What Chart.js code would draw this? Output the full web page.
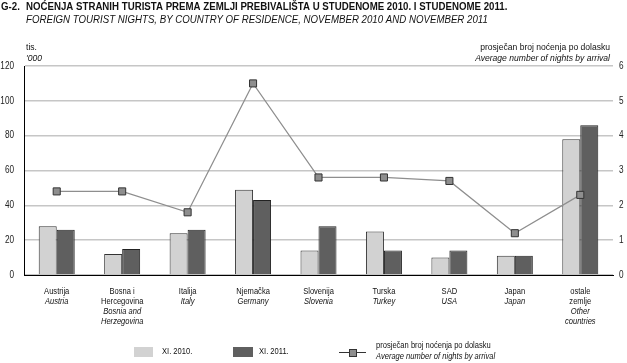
<!DOCTYPE html>
<html>
<head>
<meta charset="utf-8">
<script src="https://cdn.jsdelivr.net/npm/chart.js@4.4.1/dist/chart.umd.min.js"></script>
<style>
html, body { margin: 0; padding: 0; background: #fff; }
#wrap { width: 627px; height: 363px; position: relative; }
</style>
</head>
<body>
<div id="wrap"><canvas id="chart" width="627" height="363"></canvas></div>
<script>
// Data
const catHr = [['Austrija'], ['Bosna i', 'Hercegovina'], ['Italija'], ['Njemačka'], ['Slovenija'], ['Turska'], ['SAD'], ['Japan'], ['ostale', 'zemlje']];
const catEn = [['Austria'], ['Bosnia and', 'Herzegovina'], ['Italy'], ['Germany'], ['Slovenia'], ['Turkey'], ['USA'], ['Japan'], ['Other', 'countries']];
const nights2010 = [28, 12, 24, 49, 14, 25, 10, 11, 78];
const nights2011 = [26, 15, 26, 43, 28, 14, 14, 11, 86];
const avgNights = [2.4, 2.4, 1.8, 5.5, 2.8, 2.8, 2.7, 1.2, 2.3];
const leftAxisMax = 120;
const rightAxisMax = 6;

const FONT = '"Liberation Sans", Arial, sans-serif';
const LIGHT = '#d2d2d2';
const DARK = '#5f5f5f';
const LINE = '#8e8e8e';

// no narrow font installed, so squeeze text horizontally
function squeezed(ctx, s, x, y, align, sx) {
    ctx.save();
    ctx.translate(x, y);
    ctx.scale(sx, 1);
    ctx.textAlign = align;
    ctx.fillText(s, 0, 0);
    ctx.restore();
}

// Draws title, tick labels, axis captions, category labels and legend
const textPlugin = {
    id: 'texts',
    afterDraw(chart) {
        const ctx = chart.ctx;
        const x = chart.scales.x;
        const yL = chart.scales.y;
        const yR = chart.scales.y1;
        ctx.save();
        ctx.fillStyle = '#111';
        ctx.textBaseline = 'middle';

        // titles
        ctx.font = 'bold 11px ' + FONT;
        squeezed(ctx, 'G-2.', 1, 7, 'left', 0.88);
        squeezed(ctx, 'NOĆENJA STRANIH TURISTA PREMA ZEMLJI PREBIVALIŠTA U STUDENOME 2010. I STUDENOME 2011.', 26, 7, 'left', 0.88);
        ctx.font = 'italic 11px ' + FONT;
        squeezed(ctx, 'FOREIGN TOURIST NIGHTS, BY COUNTRY OF RESIDENCE, NOVEMBER 2010 AND NOVEMBER 2011', 26, 20, 'left', 0.88);

        // tick labels, positioned by the scales
        ctx.font = '10px ' + FONT;
        ctx.fillStyle = '#222';
        yL.ticks.forEach(t => squeezed(ctx, String(t.value), 14, yL.getPixelForValue(t.value), 'right', 0.82));
        yR.ticks.forEach(t => squeezed(ctx, String(t.value), 619, yR.getPixelForValue(t.value), 'left', 0.82));

        // axis captions
        ctx.fillStyle = '#111';
        ctx.font = '9.5px ' + FONT;
        squeezed(ctx, 'tis.', 26, 47, 'left', 0.9);
        squeezed(ctx, 'prosječan broj noćenja po dolasku', 610, 47, 'right', 0.9);
        ctx.font = 'italic 9.5px ' + FONT;
        squeezed(ctx, '\'000', 26, 58, 'left', 0.9);
        squeezed(ctx, 'Average number of nights by arrival', 610, 58, 'right', 0.9);

        // category labels
        catHr.forEach((hr, i) => {
            const cx = x.getPixelForValue(i);
            let y = 292;
            ctx.font = '9px ' + FONT;
            hr.forEach(t => { squeezed(ctx, t, cx, y, 'center', 0.84); y += 9.7; });
            ctx.font = 'italic 9px ' + FONT;
            catEn[i].forEach(t => { squeezed(ctx, t, cx, y, 'center', 0.84); y += 9.7; });
        });

        // legend
        ctx.fillStyle = LIGHT;
        ctx.fillRect(134, 347, 19, 10);
        ctx.fillStyle = DARK;
        ctx.fillRect(233, 347, 20, 10);
        ctx.fillStyle = '#111';
        ctx.font = '9px ' + FONT;
        squeezed(ctx, 'XI. 2010.', 162, 352, 'left', 0.84);
        squeezed(ctx, 'XI. 2011.', 259, 352, 'left', 0.84);
        ctx.strokeStyle = '#333';
        ctx.lineWidth = 1;
        ctx.beginPath();
        ctx.moveTo(339, 352.5);
        ctx.lineTo(366, 352.5);
        ctx.stroke();
        ctx.fillStyle = LINE;
        ctx.fillRect(349.5, 349.5, 7, 7);
        ctx.strokeRect(349.5, 349.5, 7, 7);
        ctx.fillStyle = '#111';
        squeezed(ctx, 'prosječan broj noćenja po dolasku', 376, 346, 'left', 0.84);
        ctx.font = 'italic 9px ' + FONT;
        squeezed(ctx, 'Average number of nights by arrival', 376, 356, 'left', 0.84);
        ctx.restore();
    }
};

new Chart(document.getElementById('chart'), {
    data: {
        labels: catHr.map(l => l.join(' ')),
        datasets: [
            {
                type: 'line',
                label: 'prosječan broj noćenja po dolasku',
                data: avgNights,
                yAxisID: 'y1',
                borderColor: LINE,
                borderWidth: 1.2,
                pointStyle: 'rect',
                pointRadius: 5,
                pointBackgroundColor: LINE,
                pointBorderColor: '#333',
                pointBorderWidth: 1,
                tension: 0,
                order: 0
            },
            {
                type: 'bar',
                label: 'XI. 2010.',
                data: nights2010,
                yAxisID: 'y',
                backgroundColor: LIGHT,
                borderColor: '#333',
                borderWidth: 1,
                barPercentage: 1,
                categoryPercentage: 0.55,
                order: 1
            },
            {
                type: 'bar',
                label: 'XI. 2011.',
                data: nights2011,
                yAxisID: 'y',
                backgroundColor: DARK,
                borderColor: '#222',
                borderWidth: 1,
                barPercentage: 1,
                categoryPercentage: 0.55,
                order: 1
            }
        ]
    },
    options: {
        responsive: false,
        animation: false,
        layout: { padding: { top: 66, bottom: 88, left: 0, right: 0 } },
        plugins: {
            legend: { display: false },
            tooltip: { enabled: false },
            title: { display: false }
        },
        scales: {
            x: {
                grid: { display: false, drawTicks: false },
                border: { color: '#000', width: 1 },
                ticks: { display: false },
                afterFit(s) { s.height = 0; }
            },
            y: {
                position: 'left',
                min: 0,
                max: leftAxisMax,
                ticks: { stepSize: 20, display: false },
                grid: { color: '#c6c6c6', lineWidth: 1.5, drawTicks: false },
                border: { color: '#000', width: 1 },
                afterFit(s) { s.width = 24; }
            },
            y1: {
                position: 'right',
                min: 0,
                max: rightAxisMax,
                ticks: { stepSize: 1, display: false },
                grid: { display: false, drawTicks: false },
                border: { display: false },
                afterFit(s) { s.width = 14; }
            }
        }
    },
    plugins: [textPlugin]
});
</script>
</body>
</html>
